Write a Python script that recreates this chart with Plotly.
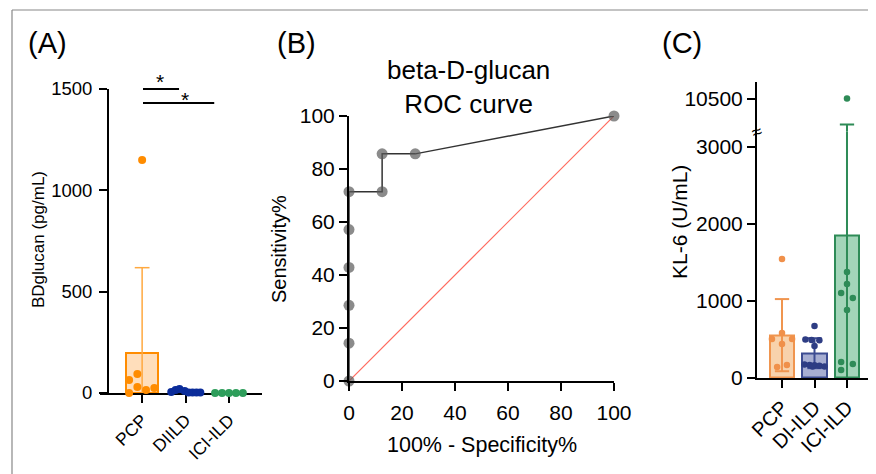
import numpy as np
import plotly.graph_objects as go

W, H = 876, 474
OFF = 8  # page body margin
def px(x): return (x - OFF) / W
def py(y): return 1 - (y - OFF) / H

FONT = "Liberation Sans, Arial, Helvetica, sans-serif"

# ---------------- Panel A data ----------------
a_groups = ["PCP", "DIILD", "ICI-ILD"]
a_pcp = [1150, 64, 94, 30, 15, 25, 0]
a_diild = [5, 15, 20, 10, 3, 2, 2, 2]
a_ici = [0, 0, 0, 0, 0]
a_yticks = [0, 500, 1000, 1500]
# horizontal scatter offsets (style)
a_pcp_jit = [0, -0.3, -0.11, -0.11, 0.09, 0.28, -0.3]
a_diild_jit = [-0.33, -0.23, -0.14, -0.02, 0.07, 0.16, 0.25, 0.34]
a_ici_jit = [-0.32, -0.16, 0, 0.16, 0.32]

# ---------------- Panel B data ----------------
roc_fpr = [0, 0, 0, 0, 0, 0, 12.5, 12.5, 25, 100]
roc_sens = [0, 14.29, 28.57, 42.86, 57.14, 71.43, 71.43, 85.71, 85.71, 100]
b_ticks = [0, 20, 40, 60, 80, 100]

# ---------------- Panel C data ----------------
c_groups = ["PCP", "DI-ILD", "ICI-ILD"]
c_pcp = [1545, 584, 506, 506, 442, 143, 169]
c_di = [675, 500, 495, 490, 416, 175, 170, 165, 160, 150, 150]
c_ici = [10550, 1377, 1221, 1104, 1039, 883, 208, 104, 182]
c_low_ticks = [0, 1000, 2000, 3000]
c_high_ticks = [10500]
c_pcp_jit = [0, 0, -0.31, 0.31, 0, -0.15, 0.15]
c_di_jit = [0, -0.28, -0.09, 0.15, 0, -0.31, -0.15, 0.0, 0.15, 0.31, -0.06]
c_ici_jit = [0, 0, 0, -0.18, 0.18, 0, -0.18, -0.18, 0.18]

fig = go.Figure()

# ---------- Panel A ----------
a_data = [a_pcp, a_diild, a_ici]
a_jits = [a_pcp_jit, a_diild_jit, a_ici_jit]
a_pt_colors = ["#FF8C00", "#0B2C9A", "#2E9E5B"]
a_fill = ["rgba(255,160,60,0.35)", "rgba(11,44,154,0.3)", "rgba(46,158,91,0.3)"]
a_means = [float(np.mean(d)) for d in a_data]
a_sds = [float(np.std(d, ddof=1)) for d in a_data]
fig.add_trace(go.Bar(x=[0, 1, 2], y=a_means, width=0.74, xaxis="x", yaxis="y",
                     marker=dict(color=a_fill, line=dict(color=a_pt_colors, width=2)),
                     showlegend=False))
m, s = a_means[0], a_sds[0]
fig.add_trace(go.Scatter(x=[0, 0, None, -0.17, 0.17], y=[m - s, m + s, None, m + s, m + s],
                         mode="lines", xaxis="x", yaxis="y",
                         line=dict(color="#FFA940", width=1.5), showlegend=False))
for i, (d, j, c) in enumerate(zip(a_data, a_jits, a_pt_colors)):
    fig.add_trace(go.Scatter(x=[i + o for o in j], y=d, mode="markers", xaxis="x", yaxis="y",
                             marker=dict(color=c, size=8), cliponaxis=False, showlegend=False))

# ---------- Panel B ----------
fig.add_trace(go.Scatter(x=[0, 100], y=[0, 100], mode="lines", xaxis="x2", yaxis="y2",
                         line=dict(color="#FF6A5E", width=1.2), showlegend=False))
fig.add_trace(go.Scatter(x=roc_fpr, y=roc_sens, mode="lines+markers", xaxis="x2", yaxis="y2",
                         line=dict(color="#333333", width=1.5),
                         marker=dict(color="rgba(90,90,90,0.7)", size=11),
                         cliponaxis=False, showlegend=False))

# ---------- Panel C ----------
c_data = [c_pcp, c_di, c_ici]
c_jits = [c_pcp_jit, c_di_jit, c_ici_jit]
c_line = ["#F0954F", "#3D4C92", "#2E8B57"]
c_pt = ["#F0904A", "#2E3D84", "#2E8B57"]
c_fill = ["#F8D2AC", "#A7AED2", "#A3D5B9"]
c_means = [float(np.mean(d)) for d in c_data]
c_sds = [float(np.std(d, ddof=1)) for d in c_data]
fig.add_trace(go.Bar(x=[0, 1, 2], y=c_means, width=0.74, xaxis="x3", yaxis="y3",
                     marker=dict(color=c_fill, line=dict(color=c_line, width=2)),
                     showlegend=False))
for i in range(3):
    xs = [i, i, None, i - 0.22, i + 0.22, None, i - 0.22, i + 0.22]
    m, s = c_means[i], c_sds[i]
    ys = [m - s, m + s, None, m + s, m + s, None, m - s, m - s]
    for ya in ["y3", "y4"]:
        fig.add_trace(go.Scatter(x=xs, y=ys, mode="lines", xaxis="x3", yaxis=ya,
                                 line=dict(color=c_line[i], width=2), showlegend=False))
for i, (d, j, c) in enumerate(zip(c_data, c_jits, c_pt)):
    for ya in ["y3", "y4"]:
        fig.add_trace(go.Scatter(x=[i + o for o in j], y=d, mode="markers", xaxis="x3", yaxis=ya,
                                 marker=dict(color=c, size=6.5), showlegend=False))

axis_common = dict(showline=True, linewidth=2, linecolor="black", ticks="outside",
                   ticklen=8, tickwidth=2, tickcolor="black", showgrid=False, zeroline=False,
                   fixedrange=True, automargin=False)

fig.update_layout(
    width=W, height=H, margin=dict(l=0, r=0, t=0, b=0, autoexpand=False),
    paper_bgcolor="white", plot_bgcolor="rgba(0,0,0,0)",
    font=dict(family=FONT, color="black"),
    bargap=0,
    xaxis=dict(axis_common, domain=[px(100), px(262)], range=[-0.97, 2.76], anchor="y",
               tickvals=[0, 1, 2], ticktext=a_groups, tickangle=-45,
               tickfont=dict(size=17.5), layer="below traces"),
    yaxis=dict(axis_common, domain=[py(393), py(89)], range=[0, 1500], anchor="free",
               position=px(108), tickvals=a_yticks, tickfont=dict(size=18.5),
               ticklabelstandoff=3, layer="below traces"),
    xaxis2=dict(axis_common, domain=[px(349), px(614)], range=[0, 100], anchor="y2",
                tickvals=b_ticks, tickfont=dict(size=21), ticklabelstandoff=4),
    yaxis2=dict(axis_common, domain=[py(381), py(116)], range=[0, 100], anchor="x2",
                tickvals=b_ticks, tickfont=dict(size=21)),
    xaxis3=dict(axis_common, domain=[px(757), px(872)], range=[-0.77, 2.77], anchor="y3",
                tickvals=[0, 1, 2], ticktext=c_groups, tickangle=-45,
                tickfont=dict(size=20)),
    yaxis3=dict(axis_common, domain=[py(378), py(131.6)], range=[0, 3200], anchor="x3",
                tickvals=c_low_ticks, tickfont=dict(size=21)),
    yaxis4=dict(axis_common, domain=[py(131.6), py(82)], range=[3700, 14000], anchor="x3",
                tickvals=c_high_ticks, ticktext=[str(v) for v in c_high_ticks],
                tickfont=dict(size=21)),
)

ann = []
def A(text, x, y, size, **kw):
    d = dict(text=text, x=px(x), y=py(y), xref="paper", yref="paper", showarrow=False,
             xanchor="center", yanchor="middle",
             font=dict(size=size, family=FONT, color="black"))
    d.update(kw)
    ann.append(d)

A("(A)", 47, 43, 29)
A("(B)", 296, 43, 29)
A("(C)", 682, 43, 29)
A("beta-D-glucan<br>ROC curve", 469, 87, 26)
A("BDglucan (pg/mL)", 38, 240, 17, textangle=-90)
A("Sensitivity%", 279, 249, 20, textangle=-90)
A("100% - Specificity%", 482, 445, 21.5)
A("KL-6 (U/mL)", 679, 222, 21, textangle=-90)
A("≈", 757, 132, 18, textangle=-20)
# significance stars
ann.append(dict(text="*", x=0.41, y=py(82), xref="x", yref="paper", showarrow=False,
                xanchor="center", yanchor="middle",
                font=dict(size=21, family=FONT, color="black")))
ann.append(dict(text="*", x=0.99, y=py(100), xref="x", yref="paper", showarrow=False,
                xanchor="center", yanchor="middle",
                font=dict(size=21, family=FONT, color="black")))
fig.update_layout(annotations=ann)

shapes = [
    dict(type="line", xref="x", yref="paper", x0=0.02, x1=0.85, y0=py(89), y1=py(89),
         line=dict(color="black", width=2)),
    dict(type="line", xref="x", yref="paper", x0=0.02, x1=1.66, y0=py(103), y1=py(103),
         line=dict(color="black", width=2)),
    dict(type="line", xref="paper", yref="paper", x0=px(12), x1=px(12), y0=0, y1=py(10),
         line=dict(color="#888888", width=1.2)),
    dict(type="line", xref="paper", yref="paper", x0=px(12), x1=1, y0=py(10), y1=py(10),
         line=dict(color="#888888", width=1.2)),
]
fig.update_layout(shapes=shapes)

fig.write_html("out.html")
